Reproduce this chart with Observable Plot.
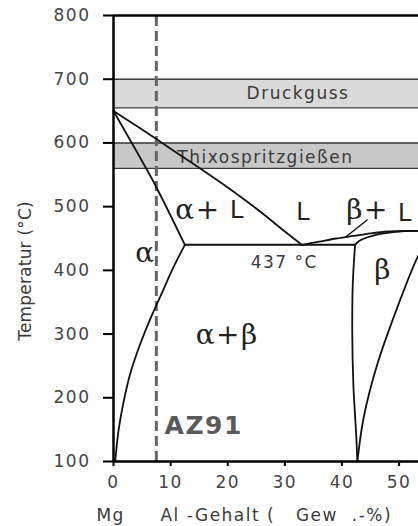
<!DOCTYPE html>
<html>
<head>
<meta charset="utf-8">
<script src="https://cdn.jsdelivr.net/npm/d3@7"></script>
<script src="https://cdn.jsdelivr.net/npm/@observablehq/plot@0.6"></script>
<style>
  html, body { margin: 0; padding: 0; background: white; }
  svg { display: block; }
</style>
</head>
<body>
<div id="chart"></div>
<script>
// ---- axis ticks ----
const xTicks = [0, 10, 20, 30, 40, 50];
const yTicks = [100, 200, 300, 400, 500, 600, 700, 800];
const xMax = 53.4;

// ---- processing bands (temperature ranges, °C) ----
const bandNames = ["Druckguss", "Thixospritzgießen"];
const bandLow = [655, 560];
const bandHigh = [700, 600];
const bandLabelX = [32.3, 26.6];
const bandLabelT = [677, 577];

// ---- AZ91 composition (wt% Al) ----
const az91 = 7.5;

// ---- phase boundaries [Al wt%, T °C] ----
const liquidusAlpha = [[0, 650], [5, 621], [10, 591], [15, 561], [20, 530], [25, 497], [30, 461], [33, 440]];
const solidusAlpha = [[0, 650], [4.4, 581], [7.3, 534], [12.5, 440]];
const solvusAlpha = [[12.5, 440], [10.5, 405], [8.5, 365], [6.5, 325], [4.5, 280], [3, 240], [1.8, 195], [0.9, 150], [0.3, 100]];
const eutecticLine = [[12.5, 440], [42.3, 440]];
const liquidusBeta = [[33, 440], [36, 445], [39, 450], [42, 454], [45, 458], [48, 461], [51, 462], [53.4, 462]];
const solidusBeta = [[42.3, 440], [43, 446], [44.5, 452], [46.5, 457], [49, 460], [51, 461.5], [53.4, 462]];
const solvusBetaLeft = [[42.3, 440], [41.9, 380], [41.8, 305], [42.0, 220], [42.5, 140], [42.7, 100]];
const solvusBetaRight = [[42.7, 100], [43.8, 169], [46.2, 253], [49.7, 342], [53.2, 420], [54, 432]];
const betaLeader = [[44.4, 479], [40.6, 452]];

// ---- phase labels ----
const greekText = ["α+", "α", "β+", "β", "α+β"];
const greekX = [14.8, 5.6, 44.5, 47.2, 19.9];
const greekT = [494, 427, 494, 400, 298];
const liqText = ["L", "L", "L"];
const liqX = [21.8, 33.4, 51.2];
const liqT = [494, 491, 490];

const eutecticLabel = "437 °C";
const eutecticLabelX = 29.9, eutecticLabelT = 411.5;
const alloyLabel = "AZ91";
const alloyLabelX = 15.8, alloyLabelT = 155;

const yTitle = "Temperatur (°C)";
const xTitleLeft = "Mg";
const xTitle = "Al\u00A0-Gehalt\u00A0(\u00A0\u00A0\u00A0Gew\u00A0\u00A0.-%)";

const bands = bandNames.map((n, i) => ({name: n, lo: bandLow[i], hi: bandHigh[i], lx: bandLabelX[i], lt: bandLabelT[i]}));
const bandFills = ["#dadada", "#c8c8c8"];

const lineOpts = {x: d => d[0], y: d => d[1], stroke: "#111", strokeWidth: 1.8};

const chart = Plot.plot({
  width: 418,
  height: 526,
  marginLeft: 113,
  marginRight: 0,
  marginTop: 15,
  marginBottom: 65,
  style: {fontFamily: "DejaVu Sans", fontSize: "17px", letterSpacing: "1.5px", background: "white", color: "black", overflow: "visible"},
  x: {domain: [0, xMax], ticks: xTicks, tickSize: 5, tickPadding: 9, label: null},
  y: {domain: [100, 800], ticks: yTicks, tickSize: 10, tickPadding: 13, label: null},
  marks: [
    Plot.rect(bands, {x1: 0, x2: xMax, y1: "lo", y2: "hi", fill: (d, i) => bandFills[i]}),
    Plot.ruleY(bandLow.concat(bandHigh), {stroke: "#3a3a3a", strokeWidth: 1.4}),
    Plot.text(bands, {x: "lx", y: "lt", text: "name", fill: "#3a3a3a", fontSize: 17}),
    Plot.ruleX([az91], {y1: 100, y2: 800, stroke: "#666", strokeWidth: 3, strokeDasharray: "10,5"}),
    Plot.line(liquidusAlpha, {...lineOpts, curve: "catmull-rom"}),
    Plot.line(solidusAlpha, {...lineOpts, curve: "catmull-rom"}),
    Plot.line(solvusAlpha, {...lineOpts, curve: "catmull-rom"}),
    Plot.line(eutecticLine, {...lineOpts, strokeWidth: 2}),
    Plot.line(liquidusBeta, {...lineOpts, curve: "catmull-rom"}),
    Plot.line(solidusBeta, {...lineOpts, curve: "catmull-rom"}),
    Plot.line(solvusBetaLeft, {...lineOpts, curve: "catmull-rom"}),
    Plot.line(solvusBetaRight, {...lineOpts, curve: "catmull-rom"}),
    Plot.line(betaLeader, {...lineOpts, strokeWidth: 1.5}),
    Plot.text(greekText, {x: (d, i) => greekX[i], y: (d, i) => greekT[i], text: d => d, fontFamily: "DejaVu Serif", fontSize: 28, fill: "#222"}),
    Plot.text(liqText, {x: (d, i) => liqX[i], y: (d, i) => liqT[i], text: d => d, fontFamily: "Liberation Sans", fontSize: 25, fill: "#222"}),
    Plot.text([eutecticLabel], {x: eutecticLabelX, y: eutecticLabelT, text: d => d, fontSize: 17, fill: "#3a3a3a"}),
    Plot.text([alloyLabel], {x: alloyLabelX, y: alloyLabelT, text: d => d, fontSize: 25, fontWeight: "bold", fill: "#5a5a5a"}),
    Plot.ruleX([0], {stroke: "black", strokeWidth: 2.5}),
    Plot.ruleY([100, 800], {stroke: "black", strokeWidth: 2.5}),
    Plot.text([yTitle], {x: -15.4, y: 399, text: d => d, rotate: -90, fill: "#3a3a3a", fontSize: 17}),
    Plot.text([xTitleLeft], {x: -0.5, y: 100, dy: 54, text: d => d, fill: "#3a3a3a", fontSize: 17}),
    Plot.text([xTitle], {x: 28.5, y: 100, dy: 54, text: d => d, fill: "#3a3a3a", fontSize: 17})
  ]
});

document.getElementById("chart").appendChild(chart);

// style axes: black tick marks, gray labels
const svg = d3.select(chart);
svg.selectAll("g[aria-label^='x-axis'] text, g[aria-label^='y-axis'] text").attr("fill", "#444");
svg.selectAll("g[aria-label^='x-axis'] line, g[aria-label^='y-axis'] line, g[aria-label^='x-axis'] path, g[aria-label^='y-axis'] path")
  .attr("stroke", "black").attr("stroke-width", 2);
svg.selectAll("text").filter(function () { return this.textContent === yTitle; })
  .style("letter-spacing", "0.2px");
</script>
</body>
</html>
